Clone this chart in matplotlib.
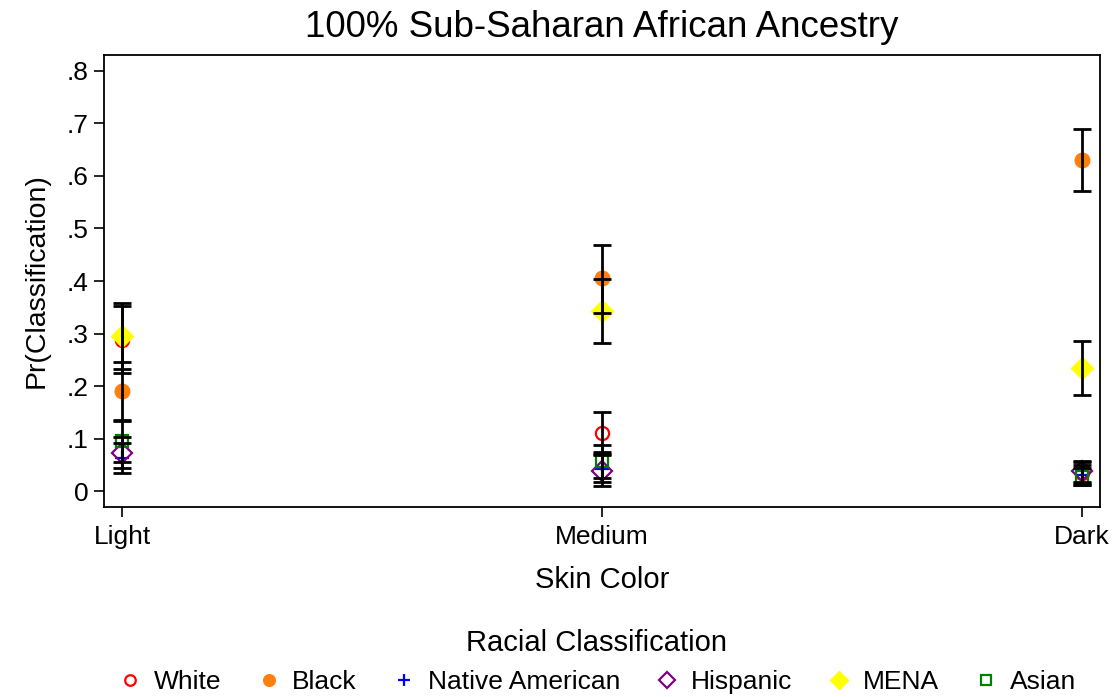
import matplotlib
matplotlib.use('Agg')
import matplotlib.pyplot as plt

plt.rcParams['font.family'] = ['Liberation Sans', 'DejaVu Sans']

skin = ["Light", "Medium", "Dark"]
groups = ["White", "Black", "Native American", "Hispanic", "MENA", "Asian"]

# point estimates and confidence limits per group (Light, Medium, Dark)
est = {
    "White":           [0.288, 0.111, 0.035],
    "Black":           [0.190, 0.405, 0.630],
    "Native American": [0.063, 0.042, 0.030],
    "Hispanic":        [0.072, 0.038, 0.038],
    "MENA":            [0.295, 0.343, 0.235],
    "Asian":           [0.096, 0.058, 0.028],
}
lo = {
    "White":           [0.225, 0.070, 0.015],
    "Black":           [0.134, 0.340, 0.571],
    "Native American": [0.035, 0.017, 0.012],
    "Hispanic":        [0.044, 0.010, 0.018],
    "MENA":            [0.232, 0.283, 0.183],
    "Asian":           [0.056, 0.025, 0.012],
}
hi = {
    "White":           [0.352, 0.151, 0.055],
    "Black":           [0.246, 0.469, 0.689],
    "Native American": [0.091, 0.075, 0.050],
    "Hispanic":        [0.104, 0.069, 0.058],
    "MENA":            [0.358, 0.404, 0.286],
    "Asian":           [0.135, 0.088, 0.045],
}

styles = {
    "White":           dict(marker='o', mfc='none', mec='red', ms=9.5, mew=1.6),
    "Black":           dict(marker='o', mfc='#ff7f0e', mec='#ff7f0e', ms=10.5),
    "Native American": dict(marker='+', mfc='blue', mec='blue', ms=10, mew=1.6),
    "Hispanic":        dict(marker='D', mfc='none', mec='purple', ms=10, mew=1.6),
    "MENA":            dict(marker='D', mfc='yellow', mec='yellow', ms=11.5),
    "Asian":           dict(marker='s', mfc='none', mec='green', ms=9, mew=1.6),
}

fig = plt.figure(figsize=(11.16, 6.97), dpi=100)
ax = fig.add_axes([0.0932, 0.2726, 0.8925, 0.6484])

x = list(range(len(skin)))
handles = []
for g in groups:
    h, = ax.plot(x, est[g], linestyle='none', zorder=3, **styles[g])
    handles.append(h)
    yerr = [[e - l for e, l in zip(est[g], lo[g])], [u - e for e, u in zip(est[g], hi[g])]]
    ax.errorbar(x, est[g], yerr=yerr, fmt='none', ecolor='black',
                elinewidth=2, capsize=6.5, capthick=2, zorder=4)

ax.set_xlim(-0.0375, 2.0375)
ax.set_ylim(-0.03, 0.83)
ax.set_xticks(x)
ax.set_xticklabels(skin)
ax.set_yticks([0, .1, .2, .3, .4, .5, .6, .7, .8])
ax.set_yticklabels(["0", ".1", ".2", ".3", ".4", ".5", ".6", ".7", ".8"])
ax.tick_params(axis='both', labelsize=19, length=7, width=1.2, direction='out', colors='black')
ax.tick_params(axis='x', pad=6)
ax.tick_params(axis='y', pad=4)
for s in ax.spines.values():
    s.set_linewidth(1.3)

ax.set_title("100% Sub-Saharan African Ancestry", fontsize=26.5, pad=13)
ax.set_xlabel("Skin Color", fontsize=21, labelpad=12)
ax.set_ylabel("Pr(Classification)", fontsize=20.5, labelpad=12)

leg = fig.legend(handles, groups, loc='lower center', bbox_to_anchor=(0.5345, -0.03),
                 ncol=6, frameon=False, fontsize=19, title="Racial Classification",
                 title_fontsize=21, handletextpad=0.4, columnspacing=1.28, handlelength=1.0,
                 markerscale=0.8)

fig.savefig("out.png", dpi=100)
